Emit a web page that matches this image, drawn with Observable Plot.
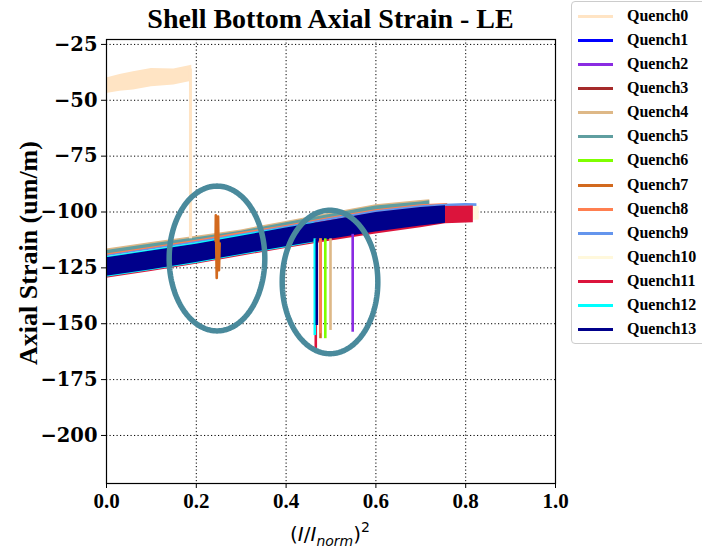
<!DOCTYPE html>
<html><head><meta charset="utf-8">
<script src="https://cdn.jsdelivr.net/npm/d3@7"></script>
<script src="https://cdn.jsdelivr.net/npm/@observablehq/plot@0.6"></script>
<style>
body{margin:0;background:#fff;}
#wrap{position:relative;width:702px;height:549px;overflow:hidden;background:#fff;}
#chart{position:absolute;left:0;top:0;}
#title{position:absolute;left:106px;width:449px;top:2px;text-align:center;font-family:"Liberation Serif";font-weight:bold;font-size:28px;line-height:34px;white-space:nowrap;}
#ylabel{position:absolute;left:29px;top:253px;transform:translate(-50%,-50%) rotate(-90deg);font-family:"Liberation Serif";font-weight:bold;font-size:26px;white-space:nowrap;}
#xlabel{position:absolute;left:330px;top:512px;transform:translateX(-50%);font-family:"DejaVu Sans";font-size:20px;white-space:nowrap;line-height:30px;}
#xlabel sub{font-size:14px;vertical-align:-5px;}
#xlabel sup{font-size:14px;vertical-align:9px;}
#legend{position:absolute;left:571px;top:1px;width:140px;height:341px;border:1px solid #ccc;border-radius:4px;background:rgba(255,255,255,0.85);}
.item{position:absolute;left:0;height:24px;width:140px;}
.item .ln{position:absolute;left:6px;width:35px;height:3px;top:11px;}
.item .tx{position:absolute;left:55px;top:0;line-height:24px;font-family:"Liberation Serif";font-weight:bold;font-size:16px;white-space:nowrap;}
</style></head><body>
<div id="wrap">
<div id="chart"></div>
<div id="title">Shell Bottom Axial Strain - LE</div>
<div id="ylabel">Axial Strain (um/m)</div>
<div id="xlabel">(<i>I</i>/<i>I</i><sub><i>norm</i></sub>)<sup>2</sup></div>
<div id="legend"></div>
</div>
<script>
// ---- series names & colours ----
const seriesNames = ["Quench0","Quench1","Quench2","Quench3","Quench4","Quench5","Quench6","Quench7","Quench8","Quench9","Quench10","Quench11","Quench12","Quench13"];
const seriesColors = ["bisque","blue","blueviolet","brown","burlywood","cadetblue","chartreuse","chocolate","coral","cornflowerblue","cornsilk","crimson","cyan","darkblue"];

// ---- axis ticks ----
const xTicks = [0, 0.2, 0.4, 0.6, 0.8, 1.0];
const yTicks = [-200, -175, -150, -125, -100, -75, -50, -25];
const xDomain = [0, 1];
const yDomain = [-221.5, -22.8];

// ---- noisy strain bands (x, upper edge, lower edge) ----
const q0X  = [0, 0.03, 0.06, 0.1, 0.15, 0.19];
const q0Hi = [-40, -38.5, -37.2, -35.8, -36, -34.3];
const q0Lo = [-47, -46, -45.4, -44, -43.2, -41.5];

const q1X  = [0, 0.1, 0.2, 0.3, 0.4, 0.468];
const q1Hi = [-121, -118, -115, -111.5, -108, -105.5];
const q1Lo = [-127, -124, -121, -118, -114.5, -112];

const q2X  = [0, 0.1, 0.2, 0.3, 0.4, 0.5, 0.548];
const q2Hi = [-121.5, -118.5, -115.5, -112, -108.5, -105, -103.8];
const q2Lo = [-127.5, -124.5, -121.5, -118, -114.8, -111.5, -110];

const q3X  = [0, 0.1, 0.2, 0.3, 0.4, 0.5, 0.6, 0.7];
const q3Hi = [-121, -118, -115, -111.8, -108.3, -105, -101.8, -99.2];
const q3Lo = [-127, -124, -121, -117.8, -114.5, -111.3, -108.3, -105.8];

const q4X  = [0, 0.1, 0.2, 0.3, 0.4, 0.5, 0.6, 0.7, 0.72];
const q4Hi = [-116.6, -113.7, -110.9, -108, -104.2, -100.4, -96.7, -94.9, -94.5];
const q4Lo = [-124, -121, -118, -115, -112, -109, -106, -103.5, -103];

const q5X  = [0, 0.1, 0.2, 0.3, 0.4, 0.5, 0.6, 0.7, 0.72];
const q5Hi = [-117.2, -114.3, -111.5, -108.6, -104.8, -101, -97.3, -95.5, -95];
const q5Lo = [-124, -121, -118, -115, -112, -109, -106, -103.5, -103];

const q6X  = [0, 0.1, 0.2, 0.3, 0.4, 0.488];
const q6Hi = [-119.5, -116.5, -113.4, -110, -106.8, -103.8];
const q6Lo = [-127.5, -124.5, -121.5, -118, -114.8, -111.8];

const q7X  = [0, 0.1, 0.2, 0.3, 0.4, 0.477];
const q7Hi = [-120, -117, -114, -110.5, -107, -104.5];
const q7Lo = [-128, -125, -122, -118.5, -115, -112.5];

const q8X  = [0, 0.1, 0.2, 0.3, 0.4, 0.5, 0.6, 0.7, 0.76];
const q8Hi = [-118.8, -115.8, -112.6, -109.2, -106, -102.4, -99, -96.8, -96.2];
const q8Lo = [-127, -124, -121, -117.5, -114.5, -111, -108, -105.5, -104.5];

const q9X  = [0, 0.1, 0.2, 0.3, 0.4, 0.5, 0.6, 0.7, 0.755, 0.8, 0.825];
const q9Hi = [-119.3, -116.3, -113.2, -109.8, -106.5, -102.8, -99.4, -97.2, -96.5, -96.2, -96.3];
const q9Lo = [-127, -124, -121, -117.5, -114.5, -111, -108, -105.5, -104.5, -103, -102.5];

const q10X  = [0, 0.1, 0.2, 0.3, 0.4, 0.5, 0.6, 0.7, 0.755, 0.8, 0.83];
const q10Hi = [-120, -117, -114, -110.8, -107.5, -104, -100.5, -98.2, -97.6, -97.4, -97.5];
const q10Lo = [-128, -125, -122, -118.5, -115, -112, -108.8, -106.2, -105, -104, -103.6];

const q11X  = [0, 0.1, 0.2, 0.3, 0.4, 0.5, 0.6, 0.7, 0.755, 0.817];
const q11Hi = [-120.5, -117.5, -114.4, -110.8, -107.2, -103.8, -100.4, -98.2, -97.5, -97.3];
const q11Lo = [-129.6, -126.6, -123.4, -119.8, -116.3, -113, -109.8, -107, -105.3, -104.8];

const q12X  = [0, 0.1, 0.2, 0.3, 0.4, 0.464];
const q12Hi = [-120, -117, -113.9, -110.3, -107, -104.8];
const q12Lo = [-129.2, -126.2, -123, -119.4, -116, -113.6];

const q13X  = [0, 0.1, 0.2, 0.3, 0.4, 0.5, 0.6, 0.7, 0.755];
const q13Hi = [-120.5, -117.5, -114.4, -110.8, -107.2, -103.8, -100.2, -98, -97.2];
const q13Lo = [-128.8, -125.8, -122.6, -119, -115.5, -112.2, -109, -106.3, -105];

// ---- quench drops (series index, x, top, bottom) ----
const dropSeries = [0, 11, 12, 13, 7, 8, 6, 4, 2];
const dropX      = [0.187, 0.4661, 0.4639, 0.4684, 0.4766, 0.4766, 0.4873, 0.4989, 0.5483];
const dropTop    = [-36, -112, -112, -112, -112, -112, -112, -112, -110];
const dropBottom = [-112, -161.2, -155.3, -150.8, -156.7, -154.5, -156.7, -153, -153.8];

// ---- Quench7 spike near 0.25 ----
const spikeX = [0.243, 0.2435, 0.2445, 0.2455, 0.247, 0.2485, 0.2495, 0.2505, 0.252];
const spikeY = [-113, -101.5, -116, -129.5, -112, -102, -116, -126, -114];

// ---- annotation ellipses (centre, radii in data units) ----
const ellCX = [0.2461, 0.4978];
const ellCY = [-120.8, -131.3];
const ellRX = [0.1065, 0.1065];
const ellRY = [32.4, 32.1];
const ellColor = "#4a8a9c";

const bands = [
  [q0X,q0Hi,q0Lo],[q1X,q1Hi,q1Lo],[q2X,q2Hi,q2Lo],[q3X,q3Hi,q3Lo],[q4X,q4Hi,q4Lo],
  [q5X,q5Hi,q5Lo],[q6X,q6Hi,q6Lo],[q7X,q7Hi,q7Lo],[q8X,q8Hi,q8Lo],[q9X,q9Hi,q9Lo],
  [q10X,q10Hi,q10Lo],[q11X,q11Hi,q11Lo],[q12X,q12Hi,q12Lo],[q13X,q13Hi,q13Lo]
];

const dotted = {stroke: "black", strokeWidth: 1, strokeDasharray: "1.2,2.3"};
const marks = [
  Plot.ruleX(xTicks, {x: d => d, ...dotted}),
  Plot.ruleY(yTicks, {y: d => d, ...dotted})
];
bands.forEach(([xs, hi, lo], i) => {
  const rows = xs.map((x, j) => ({x, hi: hi[j], lo: lo[j]}));
  marks.push(Plot.areaY(rows, {x: "x", y1: "lo", y2: "hi", fill: seriesColors[i], fillOpacity: 1}));
});
dropX.forEach((x, k) => {
  marks.push(Plot.ruleX([x], {x: d => d, y1: dropTop[k], y2: dropBottom[k],
    stroke: seriesColors[dropSeries[k]], strokeWidth: k === 0 ? 3 : 2.6}));
});
marks.push(Plot.line(spikeX.map((x, j) => ({x, y: spikeY[j]})), {x: "x", y: "y", stroke: "chocolate", strokeWidth: 2.6}));
ellCX.forEach((cx, k) => {
  const pts = d3.range(0, 361, 2).map(a => {
    const t = a * Math.PI / 180;
    return {x: cx + ellRX[k] * Math.cos(t), y: ellCY[k] + ellRY[k] * Math.sin(t)};
  });
  marks.push(Plot.line(pts, {x: "x", y: "y", stroke: ellColor, strokeWidth: 5.5}));
});
marks.push(Plot.frame({stroke: "black", strokeWidth: 1.2}));

const chart = Plot.plot({
  width: 702, height: 549,
  marginLeft: 106, marginRight: 147, marginTop: 39, marginBottom: 66,
  style: {fontFamily: "Liberation Serif", fontSize: "21px", fontWeight: "bold", background: "transparent", color: "black", overflow: "visible"},
  x: {domain: xDomain, ticks: xTicks, tickFormat: d3.format(".1f"), tickSize: 5, tickPadding: 5, label: null},
  y: {domain: yDomain, ticks: yTicks, tickSize: 5, tickPadding: 4, label: null},
  marks
});
chart.querySelectorAll('[aria-label^="y-axis"] text').forEach(t => {
  t.style.fontFamily = "'DejaVu Serif'";
  t.style.fontSize = "19.5px";
  t.style.fontWeight = "bold";
});
document.getElementById("chart").appendChild(chart);

// legend
const lg = document.getElementById("legend");
seriesNames.forEach((n, i) => {
  const it = document.createElement("div");
  it.className = "item";
  it.style.top = (2 + 24.08 * i) + "px";
  it.innerHTML = `<div class="ln" style="background:${seriesColors[i]}"></div><div class="tx">${n}</div>`;
  lg.appendChild(it);
});
</script>
</body></html>
